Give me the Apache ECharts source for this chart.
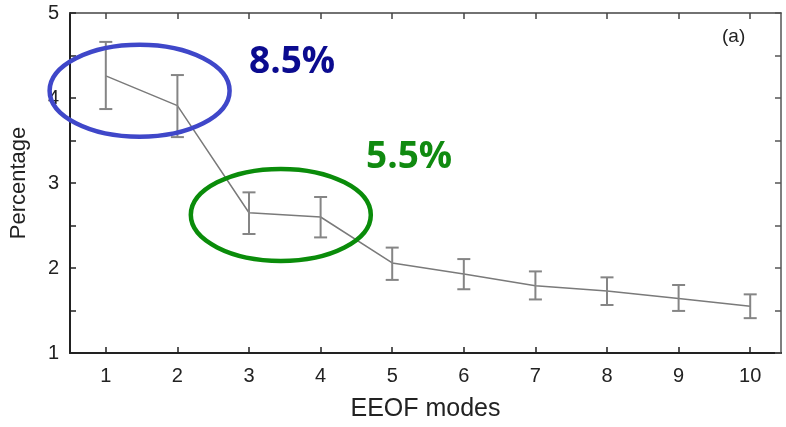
<!DOCTYPE html>
<html>
<head>
<meta charset="utf-8">
<script src="https://cdn.jsdelivr.net/npm/echarts@6/dist/echarts.min.js"></script>
<style>
html,body{margin:0;padding:0;background:#fff;}
#chart{width:786px;height:427px;}
</style>
</head>
<body>
<div id="chart"></div>
<script>
// ---- data ----
var modes = [1, 2, 3, 4, 5, 6, 7, 8, 9, 10];
var percentage = [4.26, 3.91, 2.65, 2.60, 2.06, 1.93, 1.79, 1.73, 1.64, 1.55];
var errLow  = [3.87, 3.54, 2.40, 2.36, 1.86, 1.75, 1.63, 1.565, 1.495, 1.41];
var errHigh = [4.66, 4.27, 2.89, 2.835, 2.24, 2.105, 1.96, 1.89, 1.80, 1.69];
var xTicks = [1, 2, 3, 4, 5, 6, 7, 8, 9, 10];
var yTickLabels = [1, 2, 3, 4, 5];
var groupA = [1, 2];   // modes circled in blue (8.5%)
var groupB = [3, 4];   // modes circled in green (5.5%)
var groupALabel = '8.5%';
var groupBLabel = '5.5%';
var panelLabel = '(a)';

var lineData = modes.map(function (m, i) { return [m, percentage[i]]; });
var errData = modes.map(function (m, i) { return [m, errLow[i], errHigh[i]]; });
function groupCenter(g) {
  var xs = 0, ys = 0;
  g.forEach(function (m) { var i = modes.indexOf(m); xs += m; ys += percentage[i]; });
  return [xs / g.length, ys / g.length];
}
var ellipseData = [groupCenter(groupA).concat([0]), groupCenter(groupB).concat([1])];
var ellipseColors = ['#3f47c9', '#0a8c0a'];
var ellipseShiftX = [-2, -4];

var chart = echarts.init(document.getElementById('chart'), null, {renderer: 'canvas'});
var axisColor = '#222';
var fontFam = '"Liberation Sans", Arial, sans-serif';

var option = {
  animation: false,
  backgroundColor: '#fff',
  grid: {left: 68, right: 5, top: 13, bottom: 74, containLabel: false},
  xAxis: [{
    type: 'value', min: 0.5, max: 10.43, position: 'bottom',
    name: 'EEOF modes', nameLocation: 'middle', nameGap: 44,
    nameTextStyle: {fontFamily: fontFam, fontSize: 25, color: '#222'},
    axisLine: {show: true, onZero: false, lineStyle: {color: axisColor, width: 2}},
    axisTick: {show: true, inside: true, length: 6, customValues: xTicks, lineStyle: {color: axisColor, width: 1.5}},
    axisLabel: {show: true, customValues: xTicks, margin: 13, fontFamily: fontFam, fontSize: 20, color: '#222'},
    splitLine: {show: false}
  }, {
    type: 'value', min: 0.5, max: 10.43, position: 'top',
    axisLine: {show: true, onZero: false, lineStyle: {color: '#444', width: 1.5}},
    axisTick: {show: true, inside: true, length: 6, customValues: xTicks, lineStyle: {color: '#444', width: 1.5}},
    axisLabel: {show: false},
    splitLine: {show: false}
  }],
  yAxis: [{
    type: 'value', min: 1, max: 5, interval: 0.5, position: 'left',
    name: 'Percentage', nameLocation: 'middle', nameGap: 40,
    nameTextStyle: {fontFamily: fontFam, fontSize: 22, color: '#222'},
    axisLine: {show: true, onZero: false, lineStyle: {color: axisColor, width: 2}},
    axisTick: {show: true, inside: true, length: 6, lineStyle: {color: axisColor, width: 1.5}},
    axisLabel: {show: true, customValues: yTickLabels, margin: 11, fontFamily: fontFam, fontSize: 20, color: '#222'},
    splitLine: {show: false}
  }, {
    type: 'value', min: 1, max: 5, interval: 0.5, position: 'right',
    axisLine: {show: true, onZero: false, lineStyle: {color: '#555', width: 1.5}},
    axisTick: {show: true, inside: true, length: 6, lineStyle: {color: '#555', width: 1.5}},
    axisLabel: {show: false},
    splitLine: {show: false}
  }],
  graphic: [
    {type: 'text', left: 722, top: 27, z: 100,
     style: {text: panelLabel, font: '19px ' + fontFam, fill: '#222'}},
    {type: 'text', left: 249, top: 44, z: 100,
     style: {text: groupALabel, font: 'bold 37px "Open Sans", sans-serif', fill: '#0b0b8f'}},
    {type: 'text', left: 366, top: 139, z: 100,
     style: {text: groupBLabel, font: 'bold 37px "Open Sans", sans-serif', fill: '#108a10'}}
  ],
  series: [{
    type: 'line', data: lineData, xAxisIndex: 0, yAxisIndex: 0,
    showSymbol: false, symbol: 'none',
    lineStyle: {color: '#7a7a7a', width: 1.5}, z: 3
  }, {
    type: 'custom', data: errData, xAxisIndex: 0, yAxisIndex: 0, z: 4,
    renderItem: function (params, api) {
      var x = api.value(0);
      var lo = api.coord([x, api.value(1)]);
      var hi = api.coord([x, api.value(2)]);
      var hw = 6.5;
      var st = {stroke: '#858585', lineWidth: 2};
      return {type: 'group', children: [
        {type: 'line', shape: {x1: lo[0], y1: lo[1], x2: hi[0], y2: hi[1]}, style: st},
        {type: 'line', shape: {x1: lo[0] - hw, y1: lo[1], x2: lo[0] + hw, y2: lo[1]}, style: st},
        {type: 'line', shape: {x1: hi[0] - hw, y1: hi[1], x2: hi[0] + hw, y2: hi[1]}, style: st}
      ]};
    }
  }, {
    type: 'custom', data: ellipseData, xAxisIndex: 0, yAxisIndex: 0, z: 10,
    renderItem: function (params, api) {
      var c = api.coord([api.value(0), api.value(1)]);
      var idx = api.value(2);
      return {type: 'ellipse', shape: {cx: c[0] + ellipseShiftX[idx], cy: c[1], rx: 90, ry: 46},
              style: {fill: 'none', stroke: ellipseColors[idx], lineWidth: 4.5}};
    }
  }]
};
chart.setOption(option);
</script>
</body>
</html>
